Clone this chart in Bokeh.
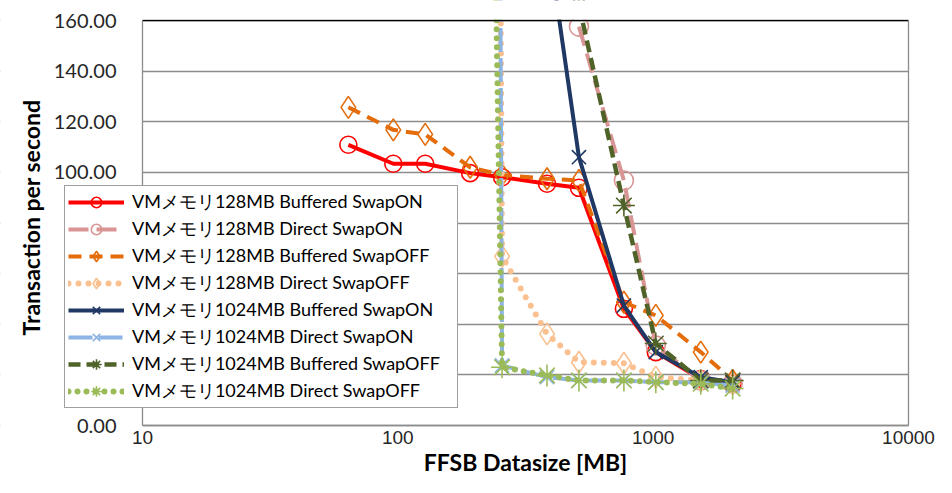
import math
from bokeh.plotting import figure
from bokeh.models import (FixedTicker, NumeralTickFormatter, Legend, LegendItem, LinearAxis,
                          LogAxis, Grid, BoxAnnotation, Label)
from bokeh.embed import file_html
from bokeh.resources import INLINE

# ---- data ----
sizes_all = [64, 96, 128, 192, 256, 384, 512, 768, 1024, 1536, 2048]
sizes_from_192 = [192, 256, 384, 512, 768, 1024, 1536, 2048]
sizes_from_384 = [384, 512, 768, 1024, 1536, 2048]
sizes_from_512 = [512, 768, 1024, 1536, 2048]

tps_128_buf_on = [110.9, 103.4, 103.4, 99.7, 98.1, 95.5, 93.9, 46.1, 29.0, 18.4, 16.6]
tps_128_dir_on = [157.6, 96.8, 31.6, 17.8, 16.6]
tps_128_buf_off = [125.7, 116.8, 115.0, 102.0, 99.0, 97.5, 96.8, 48.7, 43.5, 29.0, 17.8]
tps_128_dir_off = [2300, 66.8, 36.2, 25.0, 24.6, 19.1, 17.8, 16.6]
tps_1024_buf_on = [194, 106.0, 47.4, 29.0, 19.1, 17.1]
tps_1024_dir_on = [2800, 23.7, 19.1, 17.8, 17.8, 17.1, 17.1, 15.8]
tps_1024_buf_off = [166, 86.9, 32.4, 17.8, 17.8]
tps_1024_dir_off = [800, 23.0, 19.8, 17.8, 17.8, 17.1, 16.5, 14.6]

series_labels = [
    "VMメモリ128MB Buffered SwapON",
    "VMメモリ128MB Direct SwapON",
    "VMメモリ128MB Buffered SwapOFF",
    "VMメモリ128MB Direct SwapOFF",
    "VMメモリ1024MB Buffered SwapON",
    "VMメモリ1024MB Direct SwapON",
    "VMメモリ1024MB Buffered SwapOFF",
    "VMメモリ1024MB Direct SwapOFF",
]
x_ticks = [10, 100, 1000, 10000]
y_ticks = [0, 20, 40, 60, 80, 100, 120, 140, 160]
x_title = "FFSB Datasize [MB]"
y_title = "Transaction per second"

# ---- layout geometry (pixels); the frame covers the whole figure ----
W, H = 936, 477
PLOT_LEFT, PLOT_RIGHT = 142, 908      # where x=10 and x=10000 sit
PLOT_TOP, PLOT_BOTTOM = 20, 425       # where y=160 and y=0 sit
decade_px = (PLOT_RIGHT - PLOT_LEFT) / 3.0
x_start = 10 ** (1 - PLOT_LEFT / decade_px)
x_end = 10 ** (4 + (W - PLOT_RIGHT) / decade_px)
px_per_unit = (PLOT_BOTTOM - PLOT_TOP) / 160.0
y_start = -(H - PLOT_BOTTOM) / px_per_unit
y_end = 160 + PLOT_TOP / px_per_unit

GRID = "#8c8c8c"
LATIN = "Lato"

p = figure(width=W, height=H, x_axis_type="log", x_range=(x_start, x_end), y_range=(y_start, y_end),
           x_axis_location=None, y_axis_location=None,
           output_backend="svg", toolbar_location=None,
           min_border_left=0, min_border_right=0, min_border_top=0, min_border_bottom=0,
           background_fill_color="white", border_fill_color="white")
p.outline_line_color = None
p.center = [r for r in p.center if not isinstance(r, Grid)]

# horizontal grid, masked outside the plot area
ygrid = Grid(dimension=1, ticker=FixedTicker(ticks=y_ticks), grid_line_color=GRID, grid_line_width=1.3)
p.add_layout(ygrid)
p.add_layout(BoxAnnotation(right=10, fill_color="white", fill_alpha=1.0, line_color=None, level="underlay"))
p.add_layout(BoxAnnotation(left=10000, fill_color="white", fill_alpha=1.0, line_color=None, level="underlay"))


def plain(ax):
    ax.major_tick_line_color = None
    ax.minor_tick_line_color = None
    ax.major_tick_out = 0
    ax.major_tick_in = 0
    ax.minor_tick_out = 0
    ax.minor_tick_in = 0


# y axis placed at x=10
yax = LinearAxis(fixed_location=10, bounds=(0, 160), ticker=FixedTicker(ticks=y_ticks),
                 formatter=NumeralTickFormatter(format="0.00"))
yax.major_label_overrides = {20: "", 40: "", 60: "", 80: ""}
plain(yax)
yax.axis_line_color = GRID
yax.axis_line_width = 1.3
yax.major_label_text_font = LATIN
yax.major_label_text_font_size = "20px"
yax.major_label_text_color = "#262626"
yax.major_label_standoff = 26
p.add_layout(yax, "left")

# x axis placed at y=0
xax = LogAxis(fixed_location=0, bounds=(10, 10000), ticker=FixedTicker(ticks=x_ticks),
              formatter=NumeralTickFormatter(format="0"))
plain(xax)
xax.axis_line_color = GRID
xax.axis_line_width = 1.3
xax.major_label_text_font = "Liberation Sans"
xax.major_label_text_font_size = "19px"
xax.major_label_text_color = "#262626"
xax.major_label_standoff = 5
p.add_layout(xax, "below")

# series
specs = [
    (sizes_all, tps_128_buf_on, "#FF0000", None, 4, "circle", 17, "butt"),
    (sizes_from_512, tps_128_dir_on, "#D99594", "20 8", 4, "circle", 19, "butt"),
    (sizes_all, tps_128_buf_off, "#E46C0A", "13 8", 4, "diamond", 22, "butt"),
    (sizes_from_192, tps_128_dir_off, "#FAC090", "0 10", 6, "diamond", 22, "round"),
    (sizes_from_384, tps_1024_buf_on, "#1F3864", None, 4, "x", 20, "butt"),
    (sizes_from_192, tps_1024_dir_on, "#8DB4E2", "24 6", 4, "x", 20, "butt"),
    (sizes_from_512, tps_1024_buf_off, "#4F6228", "12 6", 4.5, "asterisk", 22, "butt"),
    (sizes_from_192, tps_1024_dir_off, "#9BBB59", "0 9", 6, "asterisk", 22, "round"),
]

items = []
for (xs, ys, color, dash, lw, marker, msize, cap), label in zip(specs, series_labels):
    kw = dict(line_color=color, line_width=lw, line_cap=cap, line_join="round")
    if dash:
        kw["line_dash"] = dash
    r_line = p.line(xs, ys, **kw)
    r_mark = p.scatter(xs, ys, marker=marker, size=msize, line_color=color,
                       line_width=1.6, fill_color=None)
    items.append(LegendItem(label=label, renderers=[r_line, r_mark]))

# hide whatever the series draw above y=160 (right of the y labels)
p.add_layout(BoxAnnotation(left=10, bottom=160 + 0.9 / px_per_unit, fill_color="white",
                           fill_alpha=1.0, line_color=None, level="annotation"))

# top (black) and right borders of the plot area
top_ax = LogAxis(fixed_location=160, bounds=(10, 10000), ticker=FixedTicker(ticks=[]),
                 axis_line_color="black", axis_line_width=1.3)
plain(top_ax)
p.add_layout(top_ax, "above")
right_ax = LinearAxis(fixed_location=10000, bounds=(0, 160), ticker=FixedTicker(ticks=[]),
                      axis_line_color=GRID, axis_line_width=1.3)
plain(right_ax)
p.add_layout(right_ax, "right")

# axis titles
p.add_layout(Label(x=(PLOT_LEFT + PLOT_RIGHT) / 2, y=2, x_units="screen", y_units="screen",
                   text=x_title, text_align="center", text_baseline="bottom",
                   text_font=LATIN, text_font_size="23px", text_font_style="bold",
                   text_color="black"))
p.add_layout(Label(x=30, y=H - 217, x_units="screen", y_units="screen",
                   text=y_title, angle=math.pi / 2, text_align="center", text_baseline="middle",
                   text_font=LATIN, text_font_size="23px", text_font_style="bold",
                   text_color="black"))

legend = Legend(items=items, location=(64, H - 408))
legend.label_text_font = LATIN
legend.label_text_font_size = "18px"
legend.label_text_color = "black"
legend.padding = 3
legend.spacing = 1
legend.label_height = 26
legend.glyph_height = 26
legend.glyph_width = 56
legend.label_standoff = 8
legend.label_width = 322
legend.border_line_color = "#404040"
legend.border_line_width = 1.3
legend.background_fill_color = "white"
legend.background_fill_alpha = 1.0
p.add_layout(legend)

open("out.html", "w").write(file_html(p, INLINE))
